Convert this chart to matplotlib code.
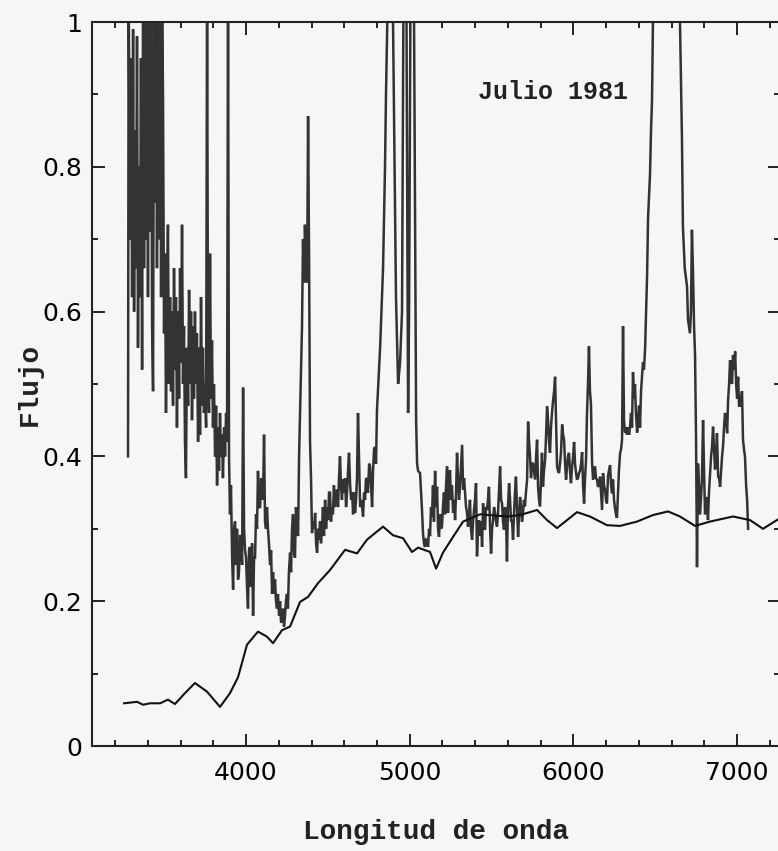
import numpy as np
import matplotlib.pyplot as plt
from matplotlib.ticker import MultipleLocator, FixedLocator, FuncFormatter

# observed spectrum (wavelength in A, flux)
obs_wl = [3279, 3283, 3291, 3297, 3304, 3310, 3316, 3322, 3328, 3334, 3340, 3346, 3352, 3358,
          3365, 3371, 3377, 3383, 3389, 3395, 3401, 3407, 3414, 3420, 3426, 3432, 3438, 3444,
          3450, 3456, 3462, 3468, 3475, 3481, 3487, 3493, 3499, 3505, 3511, 3517, 3523, 3529,
          3536, 3542, 3548, 3554, 3560, 3566, 3572, 3578, 3585, 3591, 3597, 3603, 3609, 3615,
          3621, 3627, 3633, 3639, 3646, 3652, 3658, 3664, 3670, 3676, 3682, 3688, 3694, 3700,
          3707, 3713, 3719, 3725, 3731, 3737, 3743, 3750, 3756, 3762, 3768, 3774, 3780, 3786,
          3792, 3798, 3804, 3811, 3817, 3823, 3829, 3835, 3841, 3847, 3853, 3859, 3866, 3872,
          3878, 3884, 3890, 3896, 3902, 3908, 3915, 3921, 3927, 3933, 3939, 3945, 3951, 3957,
          3963, 3969, 3976, 3982, 3988, 3994, 4000, 4006, 4012, 4018, 4024, 4030, 4037, 4043,
          4049, 4055, 4061, 4067, 4073, 4079, 4086, 4092, 4098, 4104, 4110, 4116, 4122, 4128,
          4134, 4140, 4147, 4153, 4159, 4165, 4171, 4177, 4183, 4189, 4195, 4202, 4208, 4214,
          4220, 4226, 4232, 4238, 4244, 4250, 4256, 4262, 4269, 4275, 4281, 4287, 4293, 4299,
          4305, 4312, 4318, 4324, 4330, 4336, 4342, 4348, 4354, 4360, 4366, 4373, 4379, 4385,
          4391, 4397, 4403, 4409, 4416, 4422, 4428, 4434, 4440, 4446, 4452, 4458, 4464, 4470,
          4476, 4483, 4489, 4495, 4501, 4507, 4513, 4519, 4525, 4531, 4537, 4543, 4550, 4556,
          4562, 4568, 4574, 4580, 4586, 4592, 4598, 4605, 4611, 4617, 4623, 4629, 4636, 4642,
          4648, 4654, 4660, 4666, 4672, 4678, 4684, 4690, 4697, 4703, 4709, 4715, 4721, 4727,
          4733, 4739, 4745, 4752, 4758, 4764, 4770, 4776, 4782, 4788, 4794, 4800, 4812, 4819,
          4837, 4849, 4855, 4867, 4875, 4880, 4898, 4916, 4929, 4941, 4953, 4962, 4971, 4980,
          4990, 4996, 5005, 5014, 5026, 5039, 5045, 5051, 5063, 5075, 5081, 5087, 5093, 5100,
          5106, 5112, 5118, 5124, 5130, 5136, 5142, 5148, 5155, 5161, 5167, 5173, 5179, 5185,
          5191, 5197, 5203, 5209, 5216, 5222, 5228, 5234, 5240, 5246, 5252, 5258, 5265, 5271,
          5277, 5283, 5289, 5295, 5301, 5307, 5314, 5320, 5326, 5332, 5338, 5344, 5350, 5356,
          5362, 5368, 5374, 5381, 5387, 5393, 5399, 5405, 5411, 5417, 5423, 5430, 5436, 5442,
          5448, 5454, 5460, 5466, 5472, 5478, 5484, 5491, 5497, 5503, 5509, 5515, 5521, 5527,
          5533, 5539, 5545, 5552, 5558, 5564, 5570, 5576, 5582, 5588, 5594, 5600, 5607, 5613,
          5619, 5625, 5631, 5637, 5643, 5649, 5655, 5662, 5668, 5674, 5680, 5686, 5692, 5698,
          5704, 5710, 5717, 5723, 5729, 5735, 5741, 5747, 5753, 5759, 5766, 5772, 5778, 5784,
          5790, 5796, 5802, 5808, 5814, 5820, 5827, 5833, 5839, 5845, 5851, 5857, 5863, 5869,
          5876, 5882, 5888, 5894, 5900, 5906, 5912, 5918, 5924, 5931, 5937, 5943, 5949, 5955,
          5961, 5967, 5973, 5979, 5985, 5992, 5998, 6004, 6010, 6016, 6022, 6028, 6034, 6040,
          6047, 6053, 6059, 6065, 6071, 6077, 6083, 6089, 6095, 6101, 6107, 6114, 6120, 6126,
          6132, 6138, 6144, 6150, 6156, 6163, 6169, 6175, 6181, 6187, 6193, 6199, 6205, 6211,
          6217, 6224, 6230, 6236, 6242, 6248, 6254, 6260, 6266, 6272, 6278, 6285, 6291, 6297,
          6303, 6309, 6315, 6321, 6327, 6333, 6340, 6346, 6352, 6358, 6364, 6370, 6376, 6382,
          6389, 6395, 6401, 6407, 6413, 6419, 6425, 6431, 6438, 6444, 6450, 6456, 6462, 6468,
          6474, 6480, 6486, 6500, 6560, 6640, 6651, 6663, 6669, 6680, 6694, 6700, 6706, 6712,
          6718, 6724, 6730, 6737, 6743, 6749, 6755, 6761, 6767, 6773, 6779, 6785, 6792, 6798,
          6804, 6810, 6816, 6822, 6828, 6835, 6841, 6847, 6853, 6859, 6865, 6871, 6877, 6884,
          6890, 6896, 6902, 6908, 6914, 6920, 6926, 6933, 6939, 6945, 6951, 6957, 6963, 6969,
          6975, 6981, 6988, 6994, 7000, 7006, 7012, 7018, 7024, 7030, 7036, 7042, 7048, 7055,
          7061, 7067]
obs_flux = [0.40, 1.05, 0.70, 0.95, 0.62, 0.99, 0.60, 0.85, 0.66, 0.98, 0.55, 0.80, 0.62, 0.95,
            0.52, 1.05, 0.66, 1.05, 0.70, 1.05, 0.62, 1.05, 0.71, 1.05, 0.58, 0.49, 1.05, 0.75,
            1.05, 0.66, 1.05, 0.70, 1.05, 0.62, 1.05, 0.89, 0.57, 0.68, 0.46, 0.62, 0.72, 0.50,
            0.62, 0.49, 0.60, 0.47, 0.66, 0.52, 0.62, 0.44, 0.60, 0.48, 0.66, 0.53, 0.72, 0.50,
            0.58, 0.42, 0.37, 0.55, 0.47, 0.63, 0.50, 0.60, 0.45, 0.58, 0.48, 0.60, 0.50, 0.57,
            0.42, 0.55, 0.43, 0.62, 0.47, 0.55, 0.46, 0.50, 0.44, 1.05, 0.50, 0.46, 0.68, 0.48,
            0.56, 0.44, 0.50, 0.40, 0.47, 0.36, 0.44, 0.38, 0.46, 0.40, 0.43, 0.37, 0.44, 0.40,
            0.46, 0.42, 1.05, 0.40, 0.32, 0.36, 0.26, 0.216, 0.30, 0.31, 0.25, 0.30, 0.23, 0.24,
            0.29, 0.29, 0.25, 0.495, 0.30, 0.27, 0.26, 0.22, 0.19, 0.27, 0.275, 0.22, 0.28, 0.18,
            0.26, 0.26, 0.32, 0.30, 0.38, 0.33, 0.33, 0.37, 0.36, 0.34, 0.43, 0.31, 0.30, 0.33,
            0.30, 0.28, 0.25, 0.27, 0.21, 0.24, 0.21, 0.23, 0.20, 0.19, 0.21, 0.18, 0.20, 0.17,
            0.18, 0.19, 0.165, 0.18, 0.20, 0.21, 0.19, 0.24, 0.267, 0.24, 0.30, 0.32, 0.27, 0.26,
            0.33, 0.30, 0.29, 0.40, 0.46, 0.52, 0.58, 0.70, 0.64, 0.72, 0.66, 0.64, 0.87, 0.68,
            0.42, 0.37, 0.294, 0.31, 0.30, 0.322, 0.28, 0.267, 0.30, 0.285, 0.31, 0.28, 0.30, 0.33,
            0.29, 0.34, 0.30, 0.33, 0.312, 0.35, 0.35, 0.31, 0.33, 0.32, 0.36, 0.33, 0.35, 0.354,
            0.33, 0.37, 0.40, 0.36, 0.34, 0.368, 0.35, 0.37, 0.33, 0.35, 0.38, 0.405, 0.36, 0.34,
            0.35, 0.32, 0.35, 0.322, 0.34, 0.372, 0.46, 0.40, 0.33, 0.34, 0.33, 0.317, 0.35, 0.34,
            0.37, 0.368, 0.35, 0.39, 0.386, 0.36, 0.33, 0.38, 0.41, 0.413, 0.39, 0.464, 0.52, 0.55,
            0.66, 0.80, 0.90, 1.05, 1.3, 1.3, 1.0, 0.62, 0.50, 0.53, 0.60, 1.05, 1.3, 1.02,
            0.46, 0.60, 1.05, 1.3, 1.02, 0.45, 0.39, 0.38, 0.377, 0.326, 0.294, 0.28, 0.275, 0.285,
            0.284, 0.275, 0.30, 0.29, 0.33, 0.317, 0.36, 0.31, 0.38, 0.33, 0.358, 0.30, 0.289, 0.32,
            0.30, 0.303, 0.33, 0.35, 0.32, 0.36, 0.386, 0.322, 0.36, 0.381, 0.34, 0.36, 0.322, 0.34,
            0.312, 0.35, 0.405, 0.37, 0.34, 0.358, 0.39, 0.416, 0.354, 0.37, 0.35, 0.33, 0.322, 0.303,
            0.32, 0.34, 0.30, 0.285, 0.31, 0.326, 0.34, 0.363, 0.262, 0.30, 0.312, 0.29, 0.31, 0.275,
            0.335, 0.31, 0.299, 0.33, 0.326, 0.34, 0.358, 0.30, 0.266, 0.30, 0.312, 0.33, 0.322, 0.31,
            0.303, 0.32, 0.35, 0.386, 0.34, 0.335, 0.31, 0.299, 0.33, 0.317, 0.255, 0.33, 0.363, 0.34,
            0.31, 0.312, 0.285, 0.32, 0.35, 0.372, 0.33, 0.289, 0.32, 0.344, 0.33, 0.31, 0.322, 0.34,
            0.331, 0.35, 0.368, 0.448, 0.42, 0.40, 0.37, 0.39, 0.39, 0.38, 0.368, 0.40, 0.423, 0.358,
            0.34, 0.331, 0.37, 0.405, 0.358, 0.38, 0.395, 0.43, 0.469, 0.45, 0.42, 0.405, 0.44, 0.46,
            0.478, 0.49, 0.51, 0.45, 0.386, 0.38, 0.377, 0.39, 0.405, 0.444, 0.43, 0.423, 0.39, 0.368,
            0.386, 0.40, 0.405, 0.38, 0.363, 0.386, 0.40, 0.42, 0.39, 0.377, 0.368, 0.37, 0.377, 0.38,
            0.39, 0.406, 0.36, 0.335, 0.37, 0.395, 0.46, 0.50, 0.552, 0.49, 0.473, 0.391, 0.368, 0.38,
            0.386, 0.37, 0.368, 0.358, 0.36, 0.372, 0.35, 0.326, 0.377, 0.36, 0.354, 0.34, 0.335, 0.372,
            0.38, 0.388, 0.36, 0.349, 0.368, 0.34, 0.328, 0.32, 0.315, 0.349, 0.38, 0.404, 0.41, 0.423,
            0.58, 0.45, 0.433, 0.44, 0.43, 0.44, 0.43, 0.441, 0.46, 0.44, 0.516, 0.48, 0.50, 0.46,
            0.433, 0.45, 0.47, 0.44, 0.49, 0.51, 0.53, 0.52, 0.55, 0.60, 0.65, 0.73, 0.76, 0.79,
            0.85, 0.89, 1.0, 1.3, 1.6, 1.3, 1.0, 0.84, 0.717, 0.66, 0.635, 0.589, 0.58, 0.57,
            0.60, 0.713, 0.66, 0.58, 0.54, 0.427, 0.247, 0.39, 0.36, 0.32, 0.34, 0.368, 0.45, 0.38,
            0.32, 0.33, 0.344, 0.312, 0.35, 0.377, 0.40, 0.414, 0.441, 0.41, 0.382, 0.40, 0.432, 0.372,
            0.37, 0.358, 0.38, 0.40, 0.414, 0.44, 0.46, 0.45, 0.432, 0.478, 0.50, 0.533, 0.51, 0.50,
            0.54, 0.52, 0.545, 0.50, 0.48, 0.51, 0.47, 0.47, 0.48, 0.49, 0.423, 0.41, 0.40, 0.36,
            0.34, 0.30]

# smooth model spectrum
mod_wl = [3255, 3334, 3371, 3414, 3475, 3523, 3566, 3627, 3688, 3762, 3841, 3902, 3951, 4006,
          4073, 4128, 4165, 4220, 4269, 4330, 4379, 4440, 4513, 4605, 4678, 4739, 4837, 4898,
          4959, 5014, 5051, 5124, 5161, 5203, 5265, 5326, 5430, 5594, 5674, 5778, 5839, 5900,
          5961, 6022, 6101, 6205, 6285, 6389, 6486, 6578, 6651, 6743, 6835, 6975, 7079, 7158, 7250]
mod_flux = [0.059, 0.061, 0.057, 0.059, 0.059, 0.064, 0.058, 0.073, 0.087, 0.075, 0.054, 0.073,
            0.095, 0.140, 0.158, 0.151, 0.142, 0.160, 0.165, 0.199, 0.206, 0.225, 0.243, 0.271,
            0.266, 0.285, 0.303, 0.291, 0.287, 0.268, 0.274, 0.268, 0.245, 0.267, 0.289, 0.310,
            0.320, 0.317, 0.319, 0.326, 0.312, 0.301, 0.312, 0.323, 0.317, 0.305, 0.304, 0.310,
            0.319, 0.324, 0.317, 0.304, 0.310, 0.317, 0.312, 0.300, 0.313]

x_major = [4000, 5000, 6000, 7000]
y_major = [0, 0.2, 0.4, 0.6, 0.8, 1.0]

fig = plt.figure(figsize=(7.78, 8.51), dpi=100, facecolor='#f6f6f4')
ax = fig.add_axes([92/778, 105/851, 688/778, 724/851])
ax.set_facecolor('#f6f6f4')

ax.plot(obs_wl, obs_flux, color='#333333', lw=1.8, solid_joinstyle='miter')
ax.plot(mod_wl, mod_flux, color='#111111', lw=1.5)

ax.set_xlim(3059, 7262)
ax.set_ylim(0, 1)

ax.xaxis.set_major_locator(FixedLocator(x_major))
ax.xaxis.set_minor_locator(MultipleLocator(200))
ax.yaxis.set_major_locator(FixedLocator(y_major))
ax.yaxis.set_minor_locator(MultipleLocator(0.1))
ax.yaxis.set_major_formatter(FuncFormatter(lambda v, p: f'{v:g}'))

ax.tick_params(which='both', direction='in', top=True, right=True, width=1.4, color='#222222')
ax.tick_params(which='major', length=9)
ax.tick_params(which='minor', length=4.5)
ax.tick_params(axis='x', pad=11, labelsize=18)
ax.tick_params(axis='y', pad=7, labelsize=18)
for s in ax.spines.values():
    s.set_linewidth(1.5)
    s.set_color('#222222')

mono = ['Liberation Mono', 'DejaVu Sans Mono']
ax.set_xlabel('Longitud de onda', family=mono, fontweight='bold', fontsize=20,
              labelpad=24, color='#222222')
ax.set_ylabel('Flujo', family=mono, fontweight='bold', fontsize=20, labelpad=0,
              color='#222222')
ax.text(5875, 0.904, 'Julio 1981', family=mono, fontweight='bold', fontsize=18,
        ha='center', va='center', color='#222222')

fig.savefig('out.png', dpi=100, facecolor=fig.get_facecolor())
